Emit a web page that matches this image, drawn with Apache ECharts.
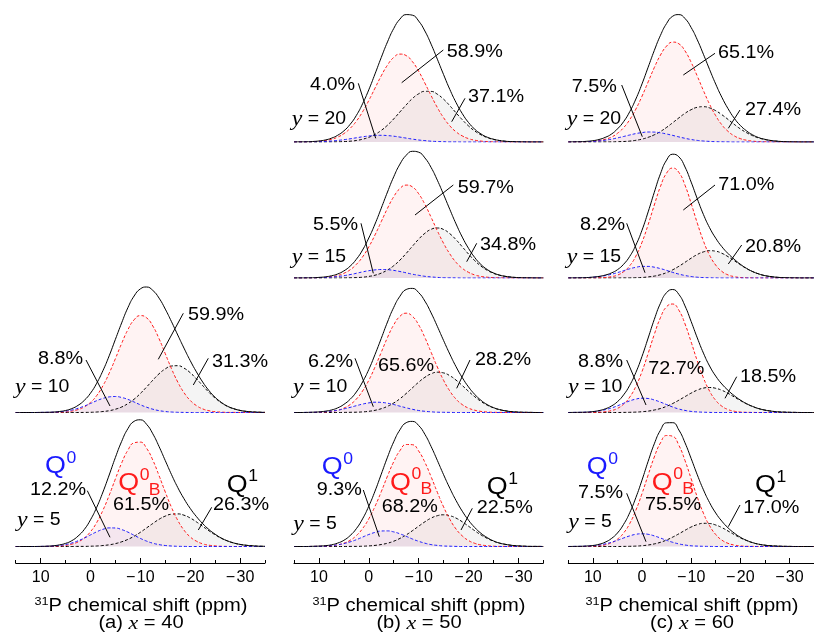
<!DOCTYPE html>
<html><head><meta charset="utf-8">
<script src="https://cdn.jsdelivr.net/npm/echarts@6/dist/echarts.min.js"></script>
<style>html,body{margin:0;padding:0;background:#fff}#c{width:814px;height:636px}</style>
</head><body><div id="c"></div>
<script>
// ---------- data: ppm grid and component intensities ----------
const ppm = [15,13.75,12.5,11.25,10,8.75,7.5,6.25,5,3.75,
  2.5,1.25,0,-1.25,-2.5,-3.75,-5,-6.25,-7.5,-8.75,
  -10,-11.25,-12.5,-13.75,-15,-16.25,-17.5,-18.75,-20,-21.25,
  -22.5,-23.75,-25,-26.25,-27.5,-28.75,-30,-31.25,-32.5,-33.75,-35];

const a40y10_Q0 = [0,0,0,0,0.1,0.2,0.3,0.7,1.4,2.5, 4.2,6.4,9.0,11.8,14.1,15.6,16.0,15.0,13.1,10.5, 7.7,5.3,3.3,1.9,1.0,0.5,0.2,0.1,0,0, 0,0,0,0,0,0,0,0,0,0, 0];
const a40y10_Q0B = [0,0,0,0,0,0,0.1,0.3,0.6,1.4, 2.9,5.6,10.1,17.0,26.8,39.3,53.9,69.1,82.8,92.7, 96.9,94.7,86.5,73.8,58.8,43.8,30.5,19.9,12.1,6.9, 3.6,1.8,0.8,0.4,0.1,0.1,0,0,0,0, 0];
const a40y10_Q1 = [0,0,0,0,0,0,0,0,0,0, 0,0.1,0.2,0.5,1.0,1.8,3.3,5.5,8.9,13.3, 19.0,25.5,32.3,38.7,43.6,46.5,46.8,44.4,39.8,33.7, 26.9,20.2,14.4,9.7,6.1,3.7,2.1,1.1,0.6,0.3, 0.1];

const a40y5_Q0 = [0,0,0,0,0.1,0.2,0.5,1.1,2.0,3.5, 5.7,8.4,11.6,14.7,17.2,18.6,18.5,16.9,14.4,11.2, 8.1,5.4,3.3,1.9,1.0,0.5,0.2,0.1,0,0, 0,0,0,0,0,0,0,0,0,0, 0];
const a40y5_Q0B = [0,0,0,0,0,0.1,0.2,0.5,1.1,2.3, 4.6,8.5,14.8,24.0,36.3,51.2,67.7,83.5,96.3,103.7, 104.4,98.2,86.4,70.9,54.5,39.1,26.2,16.4,9.6,5.3, 2.7,1.3,0.6,0.2,0.1,0,0,0,0,0, 0];
const a40y5_Q1 = [0,0,0,0,0,0,0,0,0,0, 0.1,0.1,0.3,0.5,1.0,1.7,2.9,4.7,7.1,10.3, 14.2,18.6,23.0,27.2,30.4,32.3,32.6,31.3,28.5,24.6, 20.2,15.7,11.7,8.2,5.5,3.5,2.1,1.2,0.7,0.3, 0.2];

const b50y20_Q0 = [0,0,0.1,0.2,0.3,0.6,1.0,1.6,2.3,3.2, 4.2,5.2,6.0,6.6,6.7,6.4,5.8,4.9,3.9,2.9, 2.0,1.4,0.8,0.5,0.3,0.1,0.1,0,0,0, 0,0,0,0,0,0,0,0,0,0, 0];
const b50y20_Q0B = [0,0.1,0.1,0.3,0.7,1.4,2.7,4.9,8.4,13.6, 20.8,30.2,41.5,53.9,66.2,76.9,84.6,87.9,86.4,80.4, 70.8,58.9,46.4,34.5,24.3,16.2,10.2,6.1,3.4,1.8, 0.9,0.4,0.2,0.1,0,0,0,0,0,0, 0];
const b50y20_Q1 = [0,0,0,0,0,0,0.1,0.2,0.4,0.8, 1.5,2.8,4.7,7.6,11.6,16.8,23.1,30.1,37.1,43.5, 48.2,50.7,50.6,47.8,42.8,36.3,29.2,22.3,16.1,11.0, 7.2,4.4,2.6,1.4,0.7,0.4,0.2,0.1,0,0, 0];

const b50y15_Q0 = [0,0,0.1,0.1,0.3,0.5,0.9,1.5,2.3,3.4, 4.7,6.1,7.3,8.1,8.5,8.3,7.6,6.5,5.2,3.8, 2.7,1.7,1.1,0.6,0.3,0.2,0.1,0,0,0, 0,0,0,0,0,0,0,0,0,0, 0];
const b50y15_Q0B = [0,0,0,0.1,0.3,0.6,1.3,2.5,4.7,8.2, 13.6,21.1,31.1,43.1,56.4,69.7,81.3,89.5,92.9,91.1, 84.3,73.7,60.7,47.2,34.7,24.1,15.7,9.7,5.7,3.1, 1.6,0.8,0.4,0.2,0.1,0,0,0,0,0, 0];
const b50y15_Q1 = [0,0,0,0,0,0,0,0,0.1,0.2, 0.4,0.8,1.6,2.8,4.9,8.0,12.3,17.9,24.6,31.8, 38.8,44.7,48.7,50.0,48.5,44.3,38.3,31.2,24.0,17.4, 11.9,7.7,4.7,2.7,1.5,0.8,0.4,0.2,0.1,0, 0];

const b50y10_Q0 = [0,0,0.1,0.2,0.4,0.8,1.4,2.3,3.6,5.1, 6.8,8.4,9.6,10.3,10.1,9.3,8.0,6.3,4.7,3.2, 2.0,1.2,0.7,0.3,0.2,0.1,0,0,0,0, 0,0,0,0,0,0,0,0,0,0, 0];
const b50y10_Q0B = [0,0,0,0.1,0.2,0.5,1.1,2.3,4.4,7.9, 13.4,21.5,32.2,45.5,60.2,75.0,87.6,96.2,99.3,96.2, 87.6,75.0,60.2,45.5,32.2,21.5,13.4,7.9,4.4,2.3, 1.1,0.5,0.2,0.1,0,0,0,0,0,0, 0];
const b50y10_Q1 = [0,0,0,0,0,0,0,0,0.1,0.2, 0.3,0.6,1.2,2.2,3.8,6.2,9.5,13.8,19.0,24.7, 30.3,35.2,38.7,40.3,39.6,36.8,32.4,27.0,21.2,15.8, 11.1,7.4,4.7,2.8,1.6,0.8,0.4,0.2,0.1,0, 0];

const b50y5_Q0 = [0,0,0,0.1,0.2,0.4,0.9,1.7,2.9,4.6, 6.8,9.4,12.0,14.1,15.5,15.6,14.6,12.7,10.2,7.5, 5.2,3.3,1.9,1.1,0.5,0.3,0.1,0,0,0, 0,0,0,0,0,0,0,0,0,0, 0];
const b50y5_Q0B = [0,0,0,0.1,0.2,0.4,0.8,1.7,3.3,6.2, 10.9,17.9,27.7,40.2,54.8,70.4,84.8,95.9,102.0,101.8, 95.5,84.2,69.7,54.2,39.6,27.2,17.5,10.6,6.0,3.2, 1.6,0.8,0.3,0.1,0.1,0,0,0,0,0, 0];
const b50y5_Q1 = [0,0,0,0,0,0,0,0,0,0.1, 0.1,0.3,0.6,1.1,2.0,3.3,5.3,8.1,11.6,15.8, 20.3,24.7,28.4,30.8,31.7,30.8,28.4,24.7,20.3,15.8, 11.6,8.1,5.3,3.3,2.0,1.1,0.6,0.3,0.1,0.1, 0];

const c60y20_Q0 = [0,0.1,0.2,0.4,0.6,1.1,1.8,2.8,4.1,5.5, 7.0,8.4,9.4,10.0,9.9,9.2,8.0,6.6,5.1,3.7, 2.5,1.6,1.0,0.6,0.3,0.2,0.1,0,0,0, 0,0,0,0,0,0,0,0,0,0, 0];
const c60y20_Q0B = [0,0.1,0.1,0.3,0.7,1.4,2.7,4.9,8.7,14.3, 22.4,32.9,45.8,60.1,74.4,86.9,95.9,99.9,98.2,91.1, 79.7,65.9,51.4,37.8,26.3,17.2,10.7,6.2,3.4,1.8, 0.9,0.4,0.2,0.1,0,0,0,0,0,0, 0];
const c60y20_Q1 = [0,0,0,0,0,0,0.1,0.1,0.3,0.5, 0.9,1.7,2.9,4.7,7.2,10.5,14.6,19.3,24.1,28.7, 32.3,34.7,35.3,34.1,31.3,27.3,22.6,17.7,13.2,9.4, 6.3,4.0,2.5,1.4,0.8,0.4,0.2,0.1,0,0, 0];

const c60y15_Q0 = [0,0.1,0.2,0.4,0.8,1.4,2.4,3.7,5.4,7.3, 9.2,10.7,11.6,11.6,10.8,9.4,7.6,5.6,3.9,2.5, 1.5,0.8,0.4,0.2,0.1,0,0,0,0,0, 0,0,0,0,0,0,0,0,0,0, 0];
const c60y15_Q0B = [0,0,0,0,0.1,0.2,0.5,1.3,2.9,6.3, 12.3,21.9,35.7,53.4,73.0,91.5,104.9,110.0,105.6,92.8, 74.6,54.9,37.0,22.8,12.9,6.6,3.1,1.4,0.5,0.2, 0.1,0,0,0,0,0,0,0,0,0, 0];
const c60y15_Q1 = [0,0,0,0,0,0,0,0,0,0.1, 0.1,0.3,0.5,1.1,1.9,3.3,5.4,8.2,11.7,15.7, 19.8,23.5,26.1,27.3,26.8,24.7,21.4,17.4,13.3,9.5, 6.4,4.1,2.4,1.4,0.7,0.4,0.2,0.1,0,0, 0];

const c60y10_Q0 = [0,0.1,0.2,0.4,0.8,1.6,2.8,4.5,6.7,9.2, 11.6,13.4,14.3,14.0,12.5,10.4,7.9,5.5,3.5,2.1, 1.1,0.6,0.3,0.1,0,0,0,0,0,0, 0,0,0,0,0,0,0,0,0,0, 0];
const c60y10_Q0B = [0,0,0,0,0.1,0.3,0.8,1.9,4.1,8.3, 15.4,26.2,41.0,59.1,78.1,94.8,105.8,108.5,102.3,88.6, 70.5,51.6,34.7,21.4,12.2,6.3,3.0,1.3,0.5,0.2, 0.1,0,0,0,0,0,0,0,0,0, 0];
const c60y10_Q1 = [0,0,0,0,0,0,0,0,0,0.1, 0.2,0.4,0.8,1.4,2.5,4.0,6.2,9.0,12.3,15.9, 19.4,22.4,24.4,25.0,24.2,22.2,19.2,15.6,12.0,8.7, 6.0,3.9,2.4,1.4,0.7,0.4,0.2,0.1,0,0, 0];

const c60y5_Q0 = [0,0.1,0.2,0.4,0.7,1.5,2.6,4.2,6.2,8.5, 10.6,12.2,12.7,12.2,10.6,8.5,6.2,4.2,2.6,1.5, 0.7,0.4,0.2,0.1,0,0,0,0,0,0, 0,0,0,0,0,0,0,0,0,0, 0];
const c60y5_Q0B = [0,0,0,0.1,0.3,0.7,1.7,3.7,7.3,13.5, 23.0,36.3,52.9,71.5,89.5,103.6,111.0,110.2,101.2,86.0, 67.8,49.4,33.3,20.8,12.0,6.4,3.2,1.5,0.6,0.2, 0.1,0,0,0,0,0,0,0,0,0, 0];
const c60y5_Q1 = [0,0,0,0,0,0,0,0,0,0.1, 0.2,0.4,0.8,1.5,2.6,4.2,6.5,9.4,12.7,16.2, 19.5,21.9,23.2,23.0,21.5,18.9,15.5,12.0,8.7,6.0, 3.8,2.3,1.3,0.7,0.4,0.2,0.1,0,0,0, 0];

// percentages [Q0, Q0B, Q1]
const a40y10_pct = ['8.8%','59.9%','31.3%'];
const a40y5_pct  = ['12.2%','61.5%','26.3%'];
const b50y20_pct = ['4.0%','58.9%','37.1%'];
const b50y15_pct = ['5.5%','59.7%','34.8%'];
const b50y10_pct = ['6.2%','65.6%','28.2%'];
const b50y5_pct  = ['9.3%','68.2%','22.5%'];
const c60y20_pct = ['7.5%','65.1%','27.4%'];
const c60y15_pct = ['8.2%','71.0%','20.8%'];
const c60y10_pct = ['8.8%','72.7%','18.5%'];
const c60y5_pct  = ['7.5%','75.5%','17.0%'];

const majorTicks = [10,0,-10,-20,-30];
const minorTicks = [15,5,-5,-15,-25,-35];
const captions = [['(a) ','x',' = 40'],['(b) ','x',' = 50'],['(c) ','x',' = 60']];

// ---------- layout ----------
const colLeft = [15.7, 294, 568.3];
const colWidth = 249.3;
const colCenter = [141, 419, 692];
const baseY = {20:142, 15:278, 10:412.5, 5:546.5};
const PH = 135;
const axisY = 563;

const panels = [
  {col:0, y:10, d:[a40y10_Q0,a40y10_Q0B,a40y10_Q1], pct:a40y10_pct,
   pos:[[38,359.5],[188,315],[212,361.7]],
   lead:[[86,360,110,406],[183.3,313.3,158.3,359.3],[208.3,358.3,193.3,385]], yl:[15,387.5]},
  {col:0, y:5, d:[a40y5_Q0,a40y5_Q0B,a40y5_Q1], pct:a40y5_pct,
   pos:[[30,490],[113,505],[213,505]],
   lead:[[87.3,490.7,110,537.3],null,[211.7,507.3,198.3,530]], yl:[17,520.5],
   q:[[45,466.7],[118.3,483.3],[226.7,485]]},
  {col:1, y:20, d:[b50y20_Q0,b50y20_Q0B,b50y20_Q1], pct:b50y20_pct,
   pos:[[310,85],[446.7,51.7],[468,96.7]],
   lead:[[358.3,83.3,375.7,138.3],[443.3,50,401.7,82.7],[465,98.3,451.7,121.7]], yl:[291.7,119]},
  {col:1, y:15, d:[b50y15_Q0,b50y15_Q0B,b50y15_Q1], pct:b50y15_pct,
   pos:[[313,225],[457.7,188.3],[480,245]],
   lead:[[361,223.3,373.3,273.3],[453.3,185,415,215],[476.7,243.3,466.7,261.7]], yl:[291.7,257]},
  {col:1, y:10, d:[b50y10_Q0,b50y10_Q0B,b50y10_Q1], pct:b50y10_pct,
   pos:[[308,361.7],[378,366],[475,360]],
   lead:[[355,358.3,373.3,406.7],null,[470,360,456.7,388.3]], yl:[293,387.5]},
  {col:1, y:5, d:[b50y5_Q0,b50y5_Q0B,b50y5_Q1], pct:b50y5_pct,
   pos:[[316.7,490],[381.7,506.7],[476.7,508.3]],
   lead:[[363.3,490,379.3,536.7],null,[472.3,508.3,461,530]], yl:[293.3,524],
   q:[[321.7,467.5],[390,483],[486.7,487.5]]},
  {col:2, y:20, d:[c60y20_Q0,c60y20_Q0B,c60y20_Q1], pct:c60y20_pct,
   pos:[[571.7,86.7],[718,53.3],[745,110]],
   lead:[[621.7,85,642.3,136.7],[715,53.3,683.3,75],[740,110,728.3,128.3]], yl:[566.7,119]},
  {col:2, y:15, d:[c60y15_Q0,c60y15_Q0B,c60y15_Q1], pct:c60y15_pct,
   pos:[[580,225],[718.3,185],[745,246.7]],
   lead:[[626.7,223.3,645,272.7],[715,185,683.3,210],[741.7,245,728.3,264]], yl:[566.7,257]},
  {col:2, y:10, d:[c60y10_Q0,c60y10_Q0B,c60y10_Q1], pct:c60y10_pct,
   pos:[[578,361.7],[648.3,369],[740,376.7]],
   lead:[[626.7,360,646,405],null,[736.7,376.7,725,398.3]], yl:[568,387.5]},
  {col:2, y:5, d:[c60y5_Q0,c60y5_Q0B,c60y5_Q1], pct:c60y5_pct,
   pos:[[578,493.3],[645,505],[743.3,508.3]],
   lead:[[626.7,493.3,646,541.7],null,[740,505,728.3,526.7]], yl:[568.3,522.5],
   q:[[586.7,467.5],[651.7,483],[755,485.8]]}
];

const SANS = 'Liberation Sans, Arial, sans-serif';
const SERIF = 'Liberation Serif, Times New Roman, serif';
const compStyle = [
  {color:'#1a1aff', fill:'rgba(90,40,190,0.09)'},
  {color:'#ff1a1a', fill:'rgba(255,0,0,0.065)'},
  {color:'#000000', fill:'rgba(0,0,0,0.06)'}
];

const grid = [], xAxis = [], yAxis = [], series = [], graphic = [];

panels.forEach((p, gi) => {
  grid.push({left: colLeft[p.col], width: colWidth, top: baseY[p.y] - PH, height: PH});
  xAxis.push({gridIndex: gi, type:'value', min:-35, max:15, inverse:true, show:false});
  yAxis.push({gridIndex: gi, type:'value', min:0, max:PH, show:false});
  [2,1,0].forEach(k => {
    series.push({
      type:'line', xAxisIndex: gi, yAxisIndex: gi, smooth: true, symbol:'none', silent:true,
      data: ppm.map((v,i)=>[v, p.d[k][i]]),
      lineStyle:{color: compStyle[k].color, width:1, type:[3,2]},
      areaStyle:{color: compStyle[k].fill}, z: 2
    });
  });
  series.push({
    type:'line', xAxisIndex: gi, yAxisIndex: gi, smooth: true, symbol:'none', silent:true,
    data: ppm.map((v,i)=>[v, +(p.d[0][i]+p.d[1][i]+p.d[2][i]).toFixed(2)]),
    lineStyle:{color:'#000', width:1}, z: 3
  });

  p.pct.forEach((s, k) => {
    graphic.push({type:'text', x:p.pos[k][0], y:p.pos[k][1], scaleX:1.1, z:100, silent:true,
      style:{text:s, fill:'#000', fontSize:18, fontFamily:SANS, textAlign:'left', textVerticalAlign:'middle', align:'left', verticalAlign:'middle'}});
    const L = p.lead[k];
    if (L) graphic.push({type:'line', z:100, silent:true, shape:{x1:L[0],y1:L[1],x2:L[2],y2:L[3]}, style:{stroke:'#000', lineWidth:1}});
  });
  graphic.push({type:'text', x:p.yl[0], y:p.yl[1], scaleX:1.08, z:100, silent:true,
    style:{text:'{i|y}{n| = ' + p.y + '}', fill:'#000', textAlign:'left', textVerticalAlign:'middle', align:'left', verticalAlign:'middle',
      rich:{i:{fontFamily:SERIF, fontStyle:'italic', fontSize:22}, n:{fontFamily:SANS, fontSize:18}}}});
  if (p.q) {
    const qc = ['#1a1aff','#ff1a1a','#000'];
    const sup = ['0','0','1'];
    p.q.forEach((q, k) => {
      graphic.push({type:'text', x:q[0], y:q[1], scaleX:1.12, z:100, silent:true,
        style:{text:'Q', fill:qc[k], fontSize:24, fontFamily:SANS, textAlign:'left', textVerticalAlign:'middle', align:'left', verticalAlign:'middle'}});
      graphic.push({type:'text', x:q[0]+21.5, y:q[1]-8, scaleX:1.1, z:100, silent:true,
        style:{text:sup[k], fill:qc[k], fontSize:16, fontFamily:SANS, textAlign:'left', textVerticalAlign:'middle', align:'left', verticalAlign:'middle'}});
      if (k === 1) graphic.push({type:'text', x:q[0]+30.5, y:q[1]+7, scaleX:1.1, z:100, silent:true,
        style:{text:'B', fill:qc[k], fontSize:16, fontFamily:SANS, textAlign:'left', textVerticalAlign:'middle', align:'left', verticalAlign:'middle'}});
    });
  }
});

const fmt = v => v < 0 ? '\u2212\u200A' + (-v) : String(v);
for (let c = 0; c < 3; c++) {
  const gi = grid.length;
  grid.push({left: colLeft[c], width: colWidth, top: axisY - 4, height: 4});
  yAxis.push({gridIndex: gi, type:'value', min:0, max:1, show:false});
  xAxis.push({gridIndex: gi, type:'value', min:-35, max:15, inverse:true, position:'bottom',
    axisLine:{show:true, onZero:false, lineStyle:{color:'#000', width:1}},
    axisTick:{show:true, inside:true, length:5, customValues: majorTicks, lineStyle:{color:'#000', width:1}},
    axisLabel:{show:true, customValues: majorTicks, formatter: fmt, fontSize:16, fontFamily:SANS, color:'#000', margin:7},
    splitLine:{show:false}});
  xAxis.push({gridIndex: gi, type:'value', min:-35, max:15, inverse:true, position:'bottom',
    axisLine:{show:false, onZero:false},
    axisTick:{show:true, inside:true, length:3, customValues: minorTicks, lineStyle:{color:'#000', width:1}},
    axisLabel:{show:false}, splitLine:{show:false}});
  graphic.push({type:'text', x: colCenter[c], y: 606, scaleX:1.15, z:100, silent:true,
    style:{text:'{s|31}{n|P chemical shift (ppm)}', fill:'#000', textAlign:'center', textVerticalAlign:'middle', align:'center', verticalAlign:'middle',
      rich:{s:{fontFamily:SANS, fontSize:11, verticalAlign:'top', lineHeight:12}, n:{fontFamily:SANS, fontSize:17.5, lineHeight:20}}}});
  graphic.push({type:'text', x: colCenter[c], y: 623.5, scaleX:1.15, z:100, silent:true,
    style:{text:'{n|' + captions[c][0] + '}{i|' + captions[c][1] + '}{n|' + captions[c][2] + '}', fill:'#000', textAlign:'center', textVerticalAlign:'middle', align:'center', verticalAlign:'middle',
      rich:{i:{fontFamily:SERIF, fontStyle:'italic', fontSize:19}, n:{fontFamily:SANS, fontSize:17.5}}}});
}

const chart = echarts.init(document.getElementById('c'), null, {renderer:'canvas'});
chart.setOption({animation:false, backgroundColor:'#fff', grid, xAxis, yAxis, series, graphic});
</script>
</body></html>
